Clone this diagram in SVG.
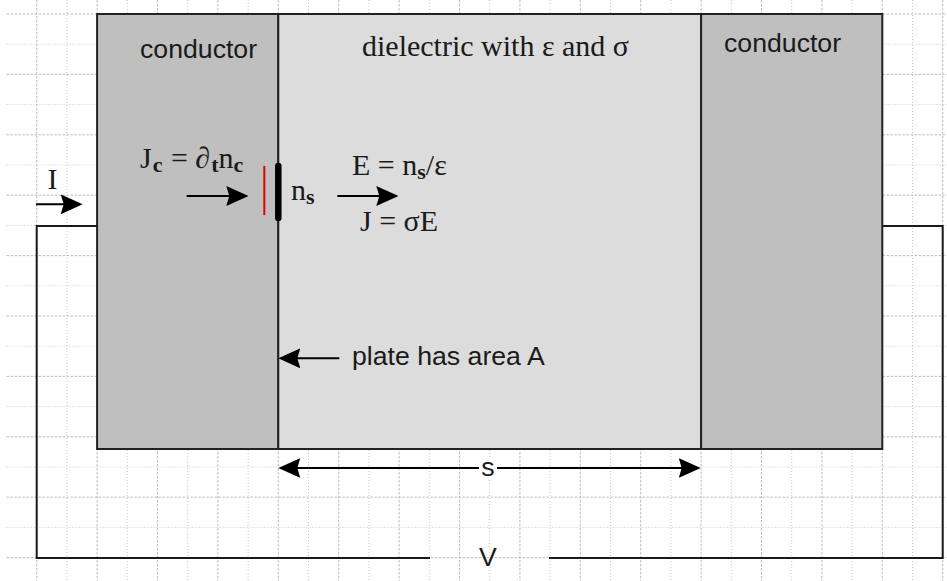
<svg xmlns="http://www.w3.org/2000/svg" width="947" height="581" viewBox="0 0 947 581">
<style>
.gM{stroke:#bcbcbc;stroke-width:1;stroke-dasharray:2.5 1.5;fill:none}
.gm{stroke:#c8c8c8;stroke-width:1;stroke-dasharray:1 2;fill:none}
.box{stroke:#222;stroke-width:2}
.cond{fill:#bfbfbf}
.diel{fill:#dcdcdc}
.wire{stroke:#1a1a1a;stroke-width:2;fill:none}
.arr{stroke:#000;stroke-width:2;fill:none}
.sans{font-family:"Liberation Sans",Arial,sans-serif;font-size:26.67px;fill:#1a1a1a}
.serif{font-family:"Liberation Serif","Times New Roman",serif;font-size:30px;fill:#1a1a1a}
.sub{font-size:22px;font-weight:bold}
</style>
<defs>
<marker id="ah" viewBox="0 0 22 20" refX="12" refY="10" markerWidth="22" markerHeight="20" markerUnits="userSpaceOnUse" orient="auto-start-reverse">
<path d="M0,0 L22,10 L0,20 L3,10 Z" fill="#000"/>
</marker>
</defs>
<rect width="947" height="581" fill="#fff"/>
<g id="grid">
<path class="gM" d="M36.7,0V581M97.1,0V581M157.5,0V581M217.9,0V581M278.3,0V581M338.7,0V581M399.1,0V581M459.5,0V581M519.9,0V581M580.3,0V581M640.7,0V581M701.1,0V581M761.5,0V581M821.9,0V581M882.3,0V581M942.7,0V581"/>
<path class="gm" d="M66.9,0V581M127.3,0V581M187.7,0V581M248.1,0V581M308.5,0V581M368.9,0V581M429.3,0V581M489.7,0V581M550.1,0V581M610.5,0V581M670.9,0V581M731.3,0V581M791.7,0V581M852.1,0V581M912.5,0V581"/>
<path class="gM" d="M6.5,14H947M6.5,74.4H947M6.5,134.8H947M6.5,195.2H947M6.5,255.6H947M6.5,316H947M6.5,376.4H947M6.5,436.8H947M6.5,497.2H947M6.5,557.6H947"/>
<path class="gm" d="M6.5,44.2H947M6.5,104.6H947M6.5,165H947M6.5,225.4H947M6.5,285.8H947M6.5,346.2H947M6.5,406.6H947M6.5,467H947M6.5,527.4H947"/>
</g>
<g id="wires">
<path class="wire" d="M97,226H36.7V558H430"/>
<path class="wire" d="M882,226H942.7V558H549"/>
</g>
<g id="left-conductor">
<rect class="box cond" x="97.1" y="14" width="181.2" height="435"/>
<text class="sans" x="140" y="58">conductor</text>
</g>
<g id="dielectric">
<rect class="box diel" x="278.3" y="14" width="422.8" height="435"/>
<text class="serif" x="362" y="56">dielectric with ε and σ</text>
</g>
<g id="right-conductor">
<rect class="box cond" x="701.1" y="14" width="181.2" height="435"/>
<text class="sans" x="724" y="52">conductor</text>
</g>
<g id="plate">
<line x1="278.3" y1="166" x2="278.3" y2="218" stroke="#000" stroke-width="6.5" stroke-linecap="round"/>
<line x1="264.3" y1="166" x2="264.3" y2="215" stroke="#e00000" stroke-width="2"/>
</g>
<g id="connectors">
<line class="arr" x1="36" y1="204.3" x2="72.7" y2="204.3" marker-end="url(#ah)"/>
<line class="arr" x1="186.7" y1="196" x2="238.3" y2="196" marker-end="url(#ah)"/>
<line class="arr" x1="337.3" y1="196" x2="388.3" y2="196" marker-end="url(#ah)"/>
<line class="arr" x1="339.3" y1="358.3" x2="288.3" y2="358.3" marker-end="url(#ah)"/>
<line class="arr" x1="288.3" y1="468" x2="690.7" y2="468" marker-start="url(#ah)" marker-end="url(#ah)"/>
</g>
<g id="labels">
<text class="serif" x="52.5" y="189" text-anchor="middle">I</text>
<text class="serif" x="140" y="168">J<tspan class="sub" dx="1" dy="4">c</tspan><tspan dx="1" dy="-4"> = ∂</tspan><tspan class="sub" dx="1" dy="4">t</tspan><tspan dy="-4">n</tspan><tspan class="sub" dy="4">c</tspan></text>
<text class="serif" x="291" y="200">n<tspan class="sub" dy="4">s</tspan></text>
<text class="serif" x="352" y="175">E = n<tspan class="sub" dy="4">s</tspan><tspan dy="-4">/ε</tspan></text>
<text class="serif" x="360" y="231">J = σE</text>
<text class="sans" x="352" y="365">plate has area A</text>
<rect x="479" y="458" width="18" height="20" fill="#fff"/>
<text class="sans" x="488" y="476" text-anchor="middle">s</text>
<text class="sans" x="488" y="566" text-anchor="middle">V</text>
</g>
</svg>
